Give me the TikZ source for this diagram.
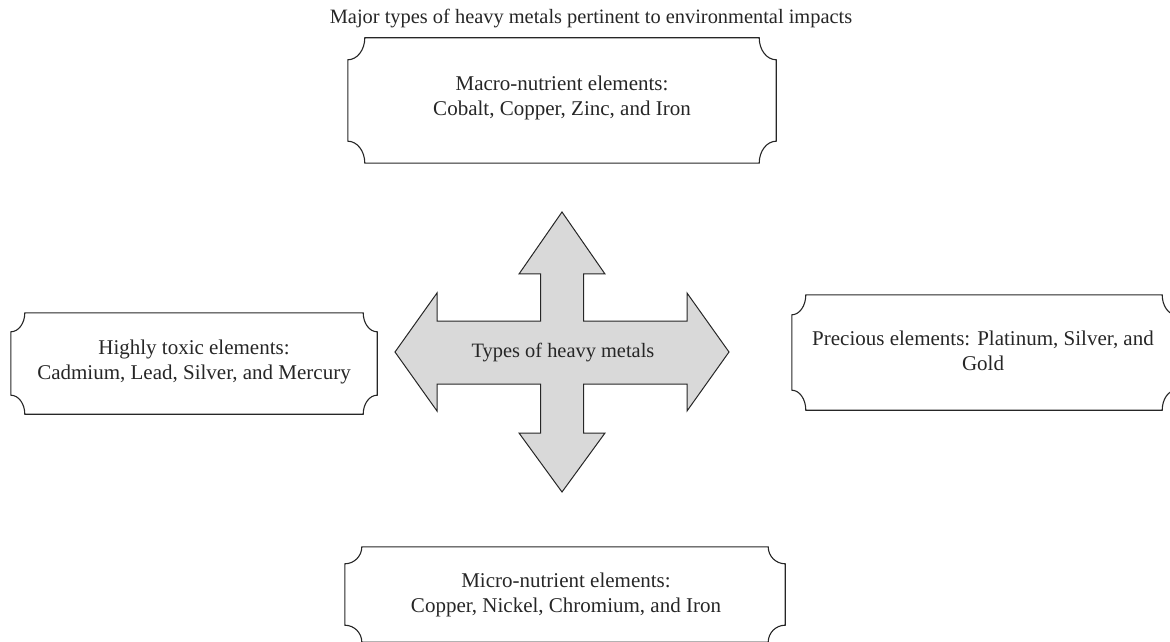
\documentclass[tikz,border=0pt]{standalone}
\usepackage{fontspec}
\setmainfont{Liberation Serif}
\definecolor{ink}{HTML}{262626}
\definecolor{arrowfill}{HTML}{D9D9D9}
% plaque outline round a named node: #1 = corner x radius, #2 = corner y radius, #3 = node
\newcommand\plaqueoutline[3]{%
  \draw[plaqueline]
    ([xshift=#1pt]#3.north west) -- ([xshift=-#1pt]#3.north east)
    arc[start angle=180, end angle=270, x radius=#1pt, y radius=#2pt]
    -- ([yshift=#2pt]#3.south east)
    arc[start angle=90, end angle=180, x radius=#1pt, y radius=#2pt]
    -- ([xshift=#1pt]#3.south west)
    arc[start angle=0, end angle=90, x radius=#1pt, y radius=#2pt]
    -- ([yshift=-#2pt]#3.north west)
    arc[start angle=270, end angle=360, x radius=#1pt, y radius=#2pt]
    -- cycle;}
\tikzset{
  plaqueline/.style={draw=ink, line width=1.1pt},
  plaque/.style={rectangle, draw=none, inner sep=0pt},
  label/.style={text=ink, align=center, font=\fontsize{21}{25}\selectfont},
  cross/.style={draw=ink, line width=1pt, fill=arrowfill, line join=miter}
}
\begin{document}
\begin{tikzpicture}[x=1pt,y=1pt]
\useasboundingbox (0,0) rectangle (1170,641);
\clip (0,0) rectangle (1170,641);

% title
\node[label, font=\fontsize{20.4}{24}\selectfont, anchor=base] (title) at (591,617) {Major types of heavy metals pertinent to environmental impacts};

% the four category plaques
\node[plaque, minimum width=428pt, minimum height=125pt] (macro) at (562,540.5) {};
\node[plaque, minimum width=366pt, minimum height=101pt] (toxic) at (194,277.5) {};
\node[plaque, minimum width=384pt, minimum height=115pt] (precious) at (984,288.5) {};
\node[plaque, minimum width=440pt, minimum height=95pt] (micro) at (565,46.5) {};
\plaqueoutline{17}{22}{macro}
\plaqueoutline{14}{19}{toxic}
\plaqueoutline{14}{20}{precious}
\plaqueoutline{17}{17}{micro}

\node[label] (macrotext) at (562,543) {Macro-nutrient elements:\\Cobalt, Copper, Zinc, and Iron};
\node[label] (toxictext) at (194,279) {Highly toxic elements:\\Cadmium, Lead, Silver, and Mercury};
\node[label] (precioustext) at (983,290) {Precious elements: Platinum, Silver, and\\Gold};
\node[label] (microtext) at (566,46) {Micro-nutrient elements:\\Copper, Nickel, Chromium, and Iron};

% four-way arrow in the middle
\draw[cross]
  (562,429) -- (605,367) -- (583.5,367) -- (583.5,320)
  -- (687,320) -- (687,348) -- (729,289) -- (687,230) -- (687,257)
  -- (583.5,257) -- (583.5,208) -- (605,208) -- (562,149) -- (519,208)
  -- (540.5,208) -- (540.5,257) -- (437,257) -- (437,230) -- (395,289)
  -- (437,348) -- (437,320) -- (540.5,320) -- (540.5,367) -- (519,367)
  -- cycle;
\node[label, font=\fontsize{20.4}{24}\selectfont] (centre) at (563,288) {Types of heavy metals};
\end{tikzpicture}
\end{document}
